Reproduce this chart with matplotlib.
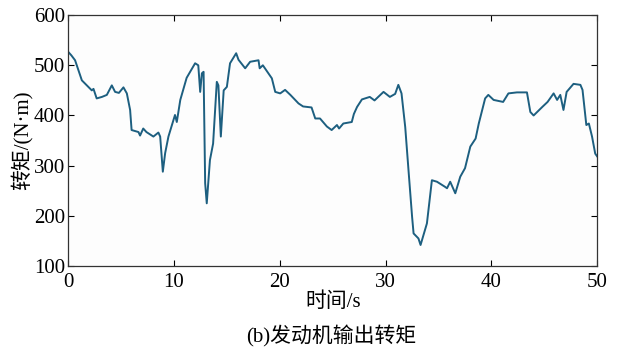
import matplotlib.pyplot as plt

plt.rcParams['font.family'] = ['Liberation Serif', 'Noto Sans CJK SC']

# engine output torque over the drive cycle
t = [0.0, 0.3, 0.66, 0.82, 1.3, 1.77, 2.24, 2.4, 2.7, 3.2, 3.66, 4.13, 4.44, 4.8,
     5.23, 5.55, 5.86, 6.0, 6.65, 6.8, 7.1, 7.4, 8.06, 8.53, 8.7, 8.95, 9.17,
     9.48, 10.1, 10.27, 10.6, 11.2, 12.0, 12.3, 12.48, 12.64, 12.8, 12.95,
     13.1, 13.4, 13.7, 14.05, 14.2, 14.43, 14.7, 15.0, 15.3, 15.88, 16.1,
     16.73, 17.2, 17.99, 18.1, 18.4, 19.25, 19.57, 20.04, 20.5, 21.0, 21.77,
     22.2, 23.0, 23.35, 23.8, 24.45, 24.9, 25.4, 25.6, 26.0, 26.8, 27.0,
     27.3, 27.76, 28.5, 28.95, 29.8, 30.4, 30.9, 31.2, 31.5, 31.85, 32.16,
     32.5, 32.64, 33.1, 33.3, 33.9, 34.37, 34.85, 35.6, 35.8, 36.1, 36.58,
     37.05, 37.5, 38.0, 38.5, 38.8, 39.4, 39.7, 40.2, 41.1, 41.6, 42.4,
     43.35, 43.67, 43.98, 44.8, 45.3, 45.87, 46.2, 46.5, 46.8, 47.1, 47.75,
     48.4, 48.6, 48.96, 49.2, 49.5, 49.8, 50.0]
torque = [527, 520, 510, 500, 470, 460, 450, 453, 434, 437, 441, 460, 447, 445,
          456, 444, 411, 371, 367, 360, 374, 367, 358, 366, 358, 288, 325,
          358, 401, 387, 431, 475, 504, 500, 447, 484, 487, 265,
          225, 311, 344, 467, 460, 358, 450, 457, 504, 524, 511,
          494, 507, 510, 494, 500, 474, 447, 444, 451, 441, 424,
          418, 416, 394, 394, 378, 371, 381, 374, 384, 387, 403,
          417, 432, 437, 430, 447, 437, 443, 461, 444, 377, 291,
          198, 165, 155, 142, 185, 271, 268, 258, 255, 268, 245,
          278, 295, 338, 354, 384, 434, 441, 431, 427, 444, 446,
          446, 407, 400, 417, 427, 444, 431, 441, 411, 447, 463,
          461, 451, 381, 384, 358, 324, 318]

fig = plt.figure(figsize=(6.19, 3.51), dpi=100)
ax = fig.add_axes([0.110, 0.242, 0.855, 0.715])
ax.set_facecolor('#fdfdfd')

ax.plot(t, torque, color='#1d5f80', linewidth=1.4)

ax.set_xlim(0, 50)
ax.set_ylim(100, 600)
ax.set_xticks([0, 10, 20, 30, 40, 50])
ax.set_yticks([100, 200, 300, 400, 500, 600])
ax.tick_params(direction='in', length=4, width=0.8, labelsize=15,
               top=True, right=True, pad=2)
ax.tick_params(axis='x', pad=5)
for s in ax.spines.values():
    s.set_linewidth(0.9)
    s.set_color('#333333')

ax.set_xlabel('时间/s', fontsize=15, labelpad=0)
ax.set_ylabel('转矩/(N·m)', fontsize=15, labelpad=0)
fig.text(0.535, 0.025, '(b)发动机输出转矩', fontsize=15, ha='center')

fig.savefig('out.png', dpi=100)
